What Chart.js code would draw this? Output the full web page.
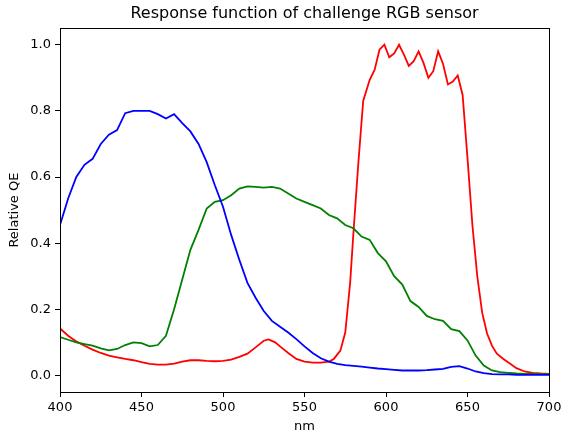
<!DOCTYPE html>
<html><head><meta charset="utf-8">
<script src="https://cdn.jsdelivr.net/npm/chart.js@4/dist/chart.umd.min.js"></script>
<style>html,body{margin:0;padding:0;background:#fff}#wrap{width:561px;height:436px}</style>
</head><body><div id="wrap"><canvas id="c" width="561" height="436"></canvas></div>
<script>
const chartTitle = "Response function of challenge RGB sensor";
const xTitle = "nm";
const yTitle = "Relative QE";
const yTickValues = [0.0, 0.2, 0.4, 0.6, 0.8, 1.0];

const nm5 = [400,405,410,415,420,425,430,435,440,445,450,455,460,465,470,475,480,485,490,495,
  500,505,510,515,520,525,530,535,540,545,550,555,560,565,570,575,580,585,590,595,
  600,605,610,615,620,625,630,635,640,645,650,655,660,665,670,675,680,685,690,695,700];
const blueQE = [0.455,0.535,0.600,0.637,0.655,0.700,0.728,0.742,0.793,0.800,0.800,0.800,0.790,0.777,0.790,0.763,0.738,0.700,0.645,0.575,
  0.510,0.425,0.350,0.280,0.235,0.195,0.165,0.147,0.130,0.110,0.088,0.068,0.052,0.042,0.035,0.031,0.029,0.027,0.024,0.021,
  0.019,0.017,0.015,0.015,0.015,0.016,0.018,0.020,0.026,0.028,0.021,0.012,0.007,0.004,0.003,0.003,0.002,0.002,0.002,0.002,0.002];
const greenQE = [0.116,0.108,0.100,0.095,0.090,0.082,0.076,0.080,0.092,0.100,0.098,0.088,0.092,0.120,0.200,0.290,0.380,0.440,0.505,0.525,
  0.530,0.545,0.565,0.572,0.570,0.568,0.570,0.565,0.550,0.535,0.525,0.515,0.505,0.485,0.475,0.455,0.445,0.420,0.410,0.370,
  0.345,0.300,0.275,0.225,0.207,0.180,0.170,0.165,0.140,0.134,0.106,0.060,0.030,0.015,0.010,0.008,0.006,0.005,0.005,0.004,0.004];
const redNm = [400,405,410,415,420,425,430,435,440,445,450,455,460,465,470,475,480,485,490,495,
  500,505,510,515,520,525,528,532,535,540,545,550,555,560,565,568,572,575,578,580,583,586,590,593,596,599,
  602,605,608,611,614,617,620,623,626,629,632,635,638,641,644,647,650,653,656,659,662,665,668,672,676,680,685,690,695,700];
const redQE = [0.142,0.120,0.103,0.090,0.078,0.068,0.060,0.055,0.050,0.046,0.040,0.035,0.033,0.033,0.036,0.042,0.046,0.046,0.044,0.043,
  0.044,0.048,0.056,0.066,0.085,0.105,0.109,0.100,0.088,0.068,0.050,0.042,0.039,0.039,0.042,0.050,0.075,0.130,0.280,0.430,0.640,0.830,0.894,0.924,0.985,1.000,
  0.962,0.974,1.000,0.970,0.936,0.950,0.980,0.945,0.900,0.920,0.980,0.942,0.880,0.889,0.907,0.848,0.657,0.455,0.300,0.190,0.127,0.090,0.066,0.050,0.036,0.022,0.012,0.008,0.006,0.005];

const pts = (xs, ys) => xs.map((x, i) => ({x: x, y: ys[i]}));
const FONT = "'DejaVu Sans', sans-serif";

const boxPlugin = {
  id: 'box',
  afterDraw(chart) {
    const a = chart.chartArea, ctx = chart.ctx;
    ctx.save();
    ctx.strokeStyle = '#000';
    ctx.lineWidth = 1;
    ctx.strokeRect(Math.round(a.left) + 0.5, Math.round(a.top) + 0.5, Math.round(a.right - a.left), Math.round(a.bottom - a.top));
    ctx.restore();
  }
};

new Chart(document.getElementById('c'), {
  type: 'line',
  data: {
    datasets: [
      {label: 'B', data: pts(nm5, blueQE), borderColor: '#0000ff'},
      {label: 'G', data: pts(nm5, greenQE), borderColor: '#008000'},
      {label: 'R', data: pts(redNm, redQE), borderColor: '#ff0000'}
    ]
  },
  options: {
    responsive: false,
    animation: false,
    elements: {line: {borderWidth: 1.8, tension: 0, fill: false}, point: {radius: 0}},
    layout: {padding: {left: 0, right: 12, top: 0, bottom: 0}},
    plugins: {
      legend: {display: false},
      tooltip: {enabled: false},
      title: {display: true, fullSize: false, text: chartTitle, color: '#000', font: {family: FONT, size: 16, weight: 'normal'}, padding: {top: 4, bottom: 5}}
    },
    scales: {
      x: {
        type: 'linear', min: 400, max: 700,
        ticks: {stepSize: 50, color: '#000', font: {family: FONT, size: 13}, padding: 3, maxRotation: 0},
        grid: {drawOnChartArea: false, drawTicks: true, tickLength: 5, color: '#000'},
        border: {display: true, color: '#000'},
        title: {display: true, text: xTitle, color: '#000', font: {family: FONT, size: 13}, padding: {top: 2, bottom: 2}},
        afterFit(s) { s.height = 44; s.paddingLeft = 0; s.paddingRight = 0; }
      },
      y: {
        type: 'linear', min: -0.05, max: 1.05,
        afterBuildTicks(s) { s.ticks = yTickValues.map(v => ({value: v})); },
        ticks: {color: '#000', font: {family: FONT, size: 13}, padding: 4, callback: v => Number(v).toFixed(1)},
        grid: {drawOnChartArea: false, drawTicks: true, tickLength: 5, color: '#000'},
        border: {display: true, color: '#000'},
        title: {display: true, text: yTitle, color: '#000', font: {family: FONT, size: 13}, padding: {top: 7, bottom: 2}},
        afterFit(s) { s.width = 60; s.paddingTop = 0; s.paddingBottom = 0; }
      }
    }
  },
  plugins: [boxPlugin]
});
</script>
</body></html>
